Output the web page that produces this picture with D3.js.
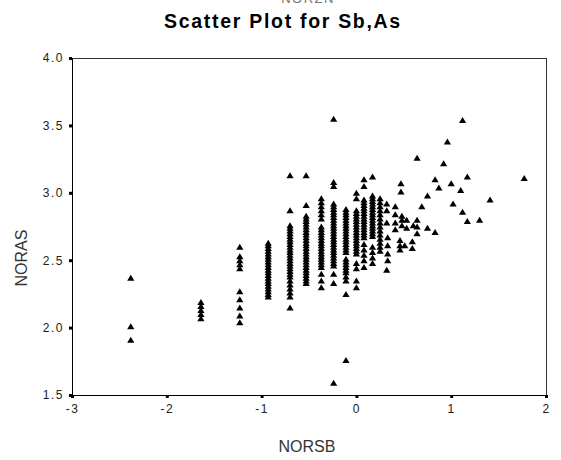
<!DOCTYPE html>
<html>
<head>
<meta charset="utf-8">
<script src="https://cdn.jsdelivr.net/npm/d3@7"></script>
<style>
  html, body { margin: 0; padding: 0; background: #fff; }
  svg { display: block; font-family: "Liberation Sans", Arial, sans-serif; }
</style>
</head>
<body>
<svg id="chart" width="561" height="460"></svg>
<script>
// ---------- data ----------
const xTicks = [-3, -2, -1, 0, 1, 2];
const yTicks = [1.5, 2.0, 2.5, 3.0, 3.5, 4.0];

// NORSB takes discrete levels on the left side of the plot
const sbLevels = [-2.38, -1.64, -1.23, -0.93, -0.70, -0.53, -0.37, -0.24, -0.11, 0.00, 0.08, 0.17, 0.25];
// NORAS values observed at each level (same order as sbLevels)
const asColumns = [
  [2.37, 2.01, 1.91],
  [2.19, 2.16, 2.13, 2.10, 2.07],
  [2.60, 2.53, 2.50, 2.47, 2.44, 2.27, 2.21, 2.15, 2.09, 2.04],
  [2.63, 2.61, 2.59, 2.57, 2.55, 2.53, 2.51, 2.49, 2.47, 2.45, 2.43, 2.41, 2.39, 2.37, 2.35, 2.33, 2.31, 2.29, 2.27, 2.25, 2.23],
  [3.13, 2.87, 2.76, 2.74, 2.72, 2.70, 2.68, 2.66, 2.64, 2.62, 2.60, 2.58, 2.56, 2.54, 2.52, 2.50, 2.48, 2.46, 2.44, 2.42, 2.40, 2.38, 2.35, 2.32, 2.29, 2.26, 2.23, 2.15],
  [3.13, 2.91, 2.83, 2.81, 2.79, 2.77, 2.75, 2.73, 2.71, 2.69, 2.67, 2.65, 2.63, 2.61, 2.59, 2.57, 2.55, 2.53, 2.51, 2.49, 2.47, 2.45, 2.43, 2.41, 2.39, 2.37, 2.35, 2.33],
  [2.96, 2.93, 2.90, 2.87, 2.84, 2.81, 2.75, 2.73, 2.71, 2.69, 2.67, 2.65, 2.63, 2.61, 2.59, 2.57, 2.55, 2.53, 2.51, 2.49, 2.47, 2.45, 2.40, 2.35, 2.30],
  [3.55, 3.08, 3.05, 2.92, 2.90, 2.88, 2.86, 2.84, 2.82, 2.80, 2.78, 2.76, 2.74, 2.72, 2.70, 2.68, 2.66, 2.64, 2.62, 2.60, 2.58, 2.56, 2.54, 2.52, 2.50, 2.48, 2.46, 2.40, 2.33, 1.59],
  [2.88, 2.86, 2.84, 2.82, 2.80, 2.78, 2.76, 2.74, 2.72, 2.70, 2.68, 2.66, 2.64, 2.62, 2.60, 2.58, 2.56, 2.51, 2.49, 2.47, 2.45, 2.43, 2.41, 2.38, 2.35, 2.25, 1.76],
  [3.00, 2.96, 2.87, 2.85, 2.83, 2.81, 2.79, 2.77, 2.75, 2.73, 2.71, 2.69, 2.67, 2.65, 2.63, 2.61, 2.59, 2.57, 2.55, 2.48, 2.44, 2.35, 2.30],
  [3.10, 3.05, 2.95, 2.93, 2.91, 2.89, 2.87, 2.85, 2.83, 2.81, 2.79, 2.77, 2.75, 2.73, 2.71, 2.69, 2.67, 2.62, 2.58, 2.54, 2.50, 2.45],
  [3.12, 2.98, 2.96, 2.94, 2.92, 2.90, 2.88, 2.86, 2.84, 2.82, 2.80, 2.78, 2.76, 2.74, 2.72, 2.70, 2.68, 2.60, 2.56, 2.52, 2.48],
  [2.96, 2.93, 2.90, 2.87, 2.84, 2.81, 2.78, 2.75, 2.72, 2.69, 2.66, 2.63, 2.60, 2.57]
];

// scattered points on the right
const scatterSb = [0.32, 0.32, 0.32, 0.33, 0.33, 0.33, 0.33, 0.32, 0.41, 0.41, 0.41, 0.41, 0.47, 0.47, 0.48, 0.48, 0.48, 0.53, 0.53, 0.60, 0.64, 0.64, 0.64, 0.75, 0.83, 0.46, 0.46, 0.46, 0.51, 0.59, 0.59,
                   1.12, 0.96, 0.64, 0.92, 1.17, 1.77, 0.83, 0.87, 1.00, 1.10, 1.41, 0.75, 0.69, 1.02, 1.12, 1.17, 1.30];
const scatterAs = [2.92, 2.87, 2.78, 2.67, 2.61, 2.55, 2.50, 2.43, 2.90, 2.84, 2.78, 2.73, 3.07, 3.01, 2.83, 2.80, 2.76, 2.80, 2.74, 2.76, 2.80, 2.75, 2.70, 2.74, 2.71, 2.65, 2.61, 2.58, 2.61, 2.64, 2.59,
                   3.54, 3.38, 3.26, 3.22, 3.12, 3.11, 3.10, 3.04, 3.07, 3.02, 2.95, 2.98, 2.90, 2.92, 2.86, 2.79, 2.80];

// ---------- build points ----------
const points = [];
sbLevels.forEach((sb, i) => asColumns[i].forEach(a => points.push({ sb: sb, as: a })));
scatterSb.forEach((sb, i) => points.push({ sb: sb, as: scatterAs[i] }));

// ---------- layout ----------
const svg = d3.select("#chart");
const plotL = 72, plotR = 546, plotT = 58, plotB = 395;

const x = d3.scaleLinear().domain([-3, 2]).range([plotL, plotR]);
const y = d3.scaleLinear().domain([1.5, 4.0]).range([plotB, plotT]);

// top partially-visible label
svg.append("text")
  .attr("x", 308).attr("y", 3)
  .attr("text-anchor", "middle")
  .style("font-size", "13px").style("letter-spacing", "1.5px")
  .attr("fill", "#777")
  .text("NORZN");

// title
svg.append("text")
  .attr("x", 283).attr("y", 28)
  .attr("text-anchor", "middle")
  .style("font-size", "19.5px").style("font-weight", "bold").style("letter-spacing", "1.7px")
  .attr("fill", "#000")
  .text("Scatter Plot for Sb,As");

// frame
svg.append("rect")
  .attr("x", plotL).attr("y", plotT)
  .attr("width", plotR - plotL).attr("height", plotB - plotT)
  .attr("fill", "none").attr("stroke", "#333").attr("stroke-width", 1)
  .attr("shape-rendering", "crispEdges");

// axes
const xAxis = d3.axisBottom(x).tickValues(xTicks).tickFormat(d3.format("d")).tickSize(3).tickPadding(6);
const yAxis = d3.axisLeft(y).tickValues(yTicks).tickFormat(d3.format(".1f")).tickSize(3).tickPadding(5);

const gx = svg.append("g").attr("transform", `translate(0,${plotB})`).call(xAxis);
const gy = svg.append("g").attr("transform", `translate(${plotL},0)`).call(yAxis);

[gx, gy].forEach(g => {
  g.select(".domain").attr("stroke", "#000").attr("shape-rendering", "crispEdges");
  g.selectAll(".tick line").attr("stroke", "#000").attr("stroke-width", 3);
  g.selectAll(".tick text")
    .attr("fill", "#222")
    .style("font-size", "12px")
    .style("letter-spacing", "1.5px")
    .style("font-family", "'Liberation Sans', Arial, sans-serif");
});
gx.selectAll(".tick text").text(d => d < 0 ? "-" + Math.abs(d) : d);

// axis titles
svg.append("text")
  .attr("x", 307).attr("y", 452)
  .attr("text-anchor", "middle")
  .style("font-size", "16px")
  .attr("fill", "#333")
  .text("NORSB");

svg.append("text")
  .attr("transform", "translate(27,258) rotate(-90)")
  .attr("text-anchor", "middle")
  .style("font-size", "16px")
  .attr("fill", "#333")
  .text("NORAS");

// points: filled triangles
const tri = "M0,-3L3.6,3L-3.6,3Z";
svg.append("g")
  .selectAll("path")
  .data(points)
  .join("path")
  .attr("d", tri)
  .attr("transform", d => `translate(${x(d.sb)},${y(d.as)})`)
  .attr("fill", "#000");
</script>
</body>
</html>
